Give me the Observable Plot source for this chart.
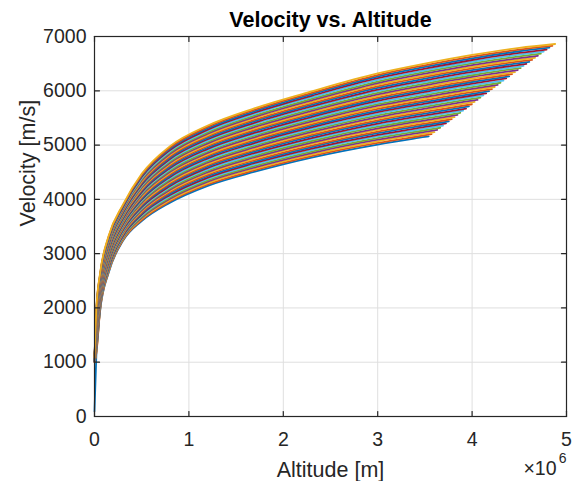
<!DOCTYPE html>
<html>
<head>
<meta charset="utf-8">
<script src="https://cdn.jsdelivr.net/npm/d3@7"></script>
<script src="https://cdn.jsdelivr.net/npm/@observablehq/plot@0.6"></script>
<style>
  html, body { margin: 0; padding: 0; background: #fff; }
  #chart svg { display: block; }
</style>
</head>
<body>
<div id="chart"></div>
<script>
// Altitude sample points, in units of 10^6 m
const altitudeGrid = [0, 0.02, 0.06, 0.15, 0.3, 0.5, 0.8, 1.2, 1.7, 2.3, 3.0, 3.5, 4.0, 4.5];

// Velocity [m/s] of each trajectory at the altitude sample points (bottom curve first)
const velocityRows = [
  [100, 1150, 1950, 2650, 3230, 3600, 3940, 4250, 4510, 4770, 5010, 5150],
  [1002, 1169, 1966, 2665, 3245, 3620, 3964, 4275, 4537, 4798, 5040, 5181],
  [1004, 1189, 1982, 2681, 3260, 3640, 3987, 4300, 4563, 4825, 5070, 5211],
  [1006, 1208, 1998, 2696, 3276, 3659, 4011, 4326, 4590, 4853, 5099, 5242],
  [1008, 1227, 2014, 2712, 3291, 3679, 4035, 4351, 4616, 4881, 5129, 5273],
  [1010, 1247, 2030, 2727, 3306, 3699, 4058, 4376, 4643, 4909, 5159, 5303],
  [1012, 1266, 2045, 2743, 3321, 3719, 4082, 4401, 4670, 4936, 5189, 5334],
  [1014, 1285, 2061, 2758, 3337, 3738, 4105, 4427, 4696, 4964, 5218, 5365],
  [1016, 1305, 2077, 2774, 3352, 3758, 4129, 4452, 4723, 4992, 5248, 5395],
  [1018, 1324, 2093, 2789, 3367, 3778, 4153, 4477, 4749, 5020, 5278, 5426],
  [1020, 1343, 2109, 2805, 3382, 3798, 4176, 4502, 4776, 5047, 5308, 5457],
  [1022, 1363, 2125, 2820, 3398, 3818, 4200, 4527, 4803, 5075, 5338, 5488],
  [1024, 1382, 2141, 2835, 3413, 3837, 4224, 4553, 4829, 5103, 5367, 5518],
  [1026, 1401, 2157, 2851, 3428, 3857, 4247, 4578, 4856, 5130, 5397, 5549],
  [1028, 1420, 2173, 2866, 3443, 3877, 4271, 4603, 4882, 5158, 5427, 5580],
  [1030, 1440, 2189, 2882, 3458, 3897, 4295, 4628, 4909, 5186, 5457, 5610],
  [1032, 1459, 2205, 2897, 3474, 3916, 4318, 4654, 4935, 5214, 5486, 5641, 5788],
  [1034, 1478, 2220, 2913, 3489, 3936, 4342, 4679, 4962, 5241, 5516, 5672, 5819],
  [1036, 1498, 2236, 2928, 3504, 3956, 4365, 4704, 4989, 5269, 5546, 5702, 5850],
  [1038, 1517, 2252, 2944, 3519, 3976, 4389, 4729, 5015, 5297, 5576, 5733, 5882],
  [1040, 1536, 2268, 2959, 3535, 3995, 4413, 4755, 5042, 5325, 5605, 5764, 5913],
  [1042, 1556, 2284, 2975, 3550, 4015, 4436, 4780, 5068, 5352, 5635, 5794, 5944],
  [1044, 1575, 2300, 2990, 3565, 4035, 4460, 4805, 5095, 5380, 5665, 5825, 5975],
  [1046, 1594, 2316, 3005, 3580, 4055, 4484, 4830, 5122, 5408, 5695, 5856, 6006],
  [1048, 1614, 2332, 3021, 3595, 4075, 4507, 4855, 5148, 5435, 5725, 5886, 6037],
  [1050, 1633, 2348, 3036, 3611, 4094, 4531, 4881, 5175, 5463, 5754, 5917, 6068],
  [1052, 1652, 2364, 3052, 3626, 4114, 4555, 4906, 5201, 5491, 5784, 5948, 6100],
  [1054, 1672, 2380, 3067, 3641, 4134, 4578, 4931, 5228, 5519, 5814, 5978, 6131],
  [1056, 1691, 2395, 3083, 3656, 4154, 4602, 4956, 5255, 5546, 5844, 6009, 6162],
  [1058, 1710, 2411, 3098, 3672, 4173, 4625, 4982, 5281, 5574, 5873, 6040, 6193],
  [1060, 1730, 2427, 3114, 3687, 4193, 4649, 5007, 5308, 5602, 5903, 6070, 6224],
  [1062, 1749, 2443, 3129, 3702, 4213, 4673, 5032, 5334, 5630, 5933, 6101, 6255],
  [1064, 1768, 2459, 3145, 3717, 4233, 4696, 5057, 5361, 5657, 5963, 6132, 6286, 6416],
  [1066, 1788, 2475, 3160, 3732, 4253, 4720, 5083, 5388, 5685, 5993, 6162, 6317, 6447],
  [1068, 1807, 2491, 3175, 3748, 4272, 4744, 5108, 5414, 5713, 6022, 6193, 6349, 6479],
  [1070, 1826, 2507, 3191, 3763, 4292, 4767, 5133, 5441, 5740, 6052, 6224, 6380, 6510],
  [1072, 1845, 2523, 3206, 3778, 4312, 4791, 5158, 5467, 5768, 6082, 6255, 6411, 6541],
  [1074, 1865, 2539, 3222, 3793, 4332, 4815, 5183, 5494, 5796, 6112, 6285, 6442, 6572],
  [1076, 1884, 2555, 3237, 3809, 4351, 4838, 5209, 5520, 5824, 6141, 6316, 6473, 6603],
  [1078, 1903, 2570, 3253, 3824, 4371, 4862, 5234, 5547, 5851, 6171, 6347, 6504, 6634],
  [1080, 1923, 2586, 3268, 3839, 4391, 4885, 5259, 5574, 5879, 6201, 6377, 6535, 6665],
  [1082, 1942, 2602, 3284, 3854, 4411, 4909, 5284, 5600, 5907, 6231, 6408, 6567, 6697],
  [1084, 1961, 2618, 3299, 3870, 4430, 4933, 5310, 5627, 5935, 6260, 6439, 6598, 6728],
  [1086, 1981, 2634, 3315, 3885, 4450, 4956, 5335, 5653, 5962, 6290, 6469, 6629, 6759],
  [1088, 2000, 2650, 3330, 3900, 4470, 4980, 5360, 5680, 5990, 6320, 6500, 6660, 6790]
];

// Final point of each trajectory (altitude in 10^6 m, velocity in m/s)
const endAltitude = [3.540, 3.570, 3.601, 3.631, 3.662, 3.692, 3.723, 3.753, 3.784, 3.814, 3.845,
  3.875, 3.905, 3.936, 3.966, 3.997, 4.027, 4.058, 4.088, 4.119, 4.149, 4.180, 4.210,
  4.240, 4.271, 4.301, 4.332, 4.362, 4.393, 4.423, 4.454, 4.484, 4.515, 4.545, 4.575,
  4.606, 4.636, 4.667, 4.697, 4.728, 4.758, 4.789, 4.819, 4.850, 4.880];
const endVelocity = [5161, 5201, 5240, 5279, 5319, 5358, 5398, 5437, 5476, 5515, 5555,
  5595, 5633, 5673, 5713, 5752, 5795, 5834, 5873, 5914, 5952, 5992, 6031,
  6070, 6109, 6148, 6188, 6227, 6266, 6305, 6344, 6383, 6419, 6457, 6495,
  6533, 6570, 6608, 6645, 6683, 6720, 6759, 6794, 6828, 6862];

const lineColors = ["#0072BD", "#D95319", "#EDB120", "#7E2F8E", "#77AC30", "#4DBEEE", "#A2142F"];
const xTicks = [0, 1, 2, 3, 4, 5];
const yTicks = [0, 1000, 2000, 3000, 4000, 5000, 6000, 7000];

const titleText = "Velocity vs. Altitude";
const xLabel = "Altitude [m]";
const yLabel = "Velocity [m/s]";
const expBase = "\u00d710";
const expPower = "6";

const FONT = "'Liberation Sans', Arial, Helvetica, sans-serif";
const AXIS = "#262626";

const curves = velocityRows.map((row, k) => {
  const pts = row.map((v, i) => ({alt: altitudeGrid[i], vel: v}));
  pts.push({alt: endAltitude[k], vel: endVelocity[k]});
  return pts;
});

const tickShape = {
  draw(context, l) { context.moveTo(0, 0); context.lineTo(0, -l); }
};
const TL = 5;

const marks = [
  Plot.gridX(xTicks, {stroke: "#dfdfdf", strokeOpacity: 1, strokeWidth: 1}),
  Plot.gridY(yTicks, {stroke: "#dfdfdf", strokeOpacity: 1, strokeWidth: 1}),
  ...curves.map((pts, k) => Plot.line(pts, {
    x: "alt", y: "vel", stroke: lineColors[k % 7], strokeWidth: 1.8, curve: "monotone-x"
  })),
  Plot.frame({stroke: AXIS, strokeWidth: 1.2}),
  // inward ticks on all four sides
  Plot.vector(xTicks, {x: d => d, frameAnchor: "bottom", length: TL, rotate: 0, anchor: "start", shape: tickShape, stroke: AXIS, strokeWidth: 1.2}),
  Plot.vector(xTicks, {x: d => d, frameAnchor: "top", length: TL, rotate: 180, anchor: "start", shape: tickShape, stroke: AXIS, strokeWidth: 1.2}),
  Plot.vector(yTicks, {y: d => d, frameAnchor: "left", length: TL, rotate: 90, anchor: "start", shape: tickShape, stroke: AXIS, strokeWidth: 1.2}),
  Plot.vector(yTicks, {y: d => d, frameAnchor: "right", length: TL, rotate: -90, anchor: "start", shape: tickShape, stroke: AXIS, strokeWidth: 1.2}),
  Plot.axisX(xTicks, {anchor: "bottom", tickSize: 0, tickPadding: 16, tickFormat: d => String(d), fontSize: 19.5, fill: AXIS, label: null}),
  Plot.axisY(yTicks, {anchor: "left", tickSize: 0, tickPadding: 8, tickFormat: d => String(d), fontSize: 19.5, fill: AXIS, label: null}),
  Plot.text([titleText], {frameAnchor: "top", lineAnchor: "top", dy: -24.5, fontSize: 21.5, fontWeight: "bold", fill: "#000"}),
  Plot.text([xLabel], {frameAnchor: "bottom", lineAnchor: "top", dy: 45.5, fontSize: 21.5, fill: AXIS}),
  Plot.text([yLabel], {frameAnchor: "left", rotate: -90, dx: -66, fontSize: 21.5, fill: AXIS}),
  Plot.text([expBase], {frameAnchor: "bottom-right", textAnchor: "end", lineAnchor: "top", dx: -10, dy: 45, fontSize: 19.5, fill: AXIS}),
  Plot.text([expPower], {frameAnchor: "bottom-right", textAnchor: "end", lineAnchor: "top", dx: 0, dy: 37, fontSize: 14, fill: AXIS})
];

const chart = Plot.plot({
  width: 575,
  height: 481,
  marginTop: 36,
  marginRight: 9,
  marginBottom: 65,
  marginLeft: 94,
  x: {domain: [0, 5]},
  y: {domain: [0, 7000]},
  style: {fontFamily: FONT, background: "#fff", color: AXIS, overflow: "visible"},
  marks
});
document.getElementById("chart").appendChild(chart);
</script>
</body>
</html>
